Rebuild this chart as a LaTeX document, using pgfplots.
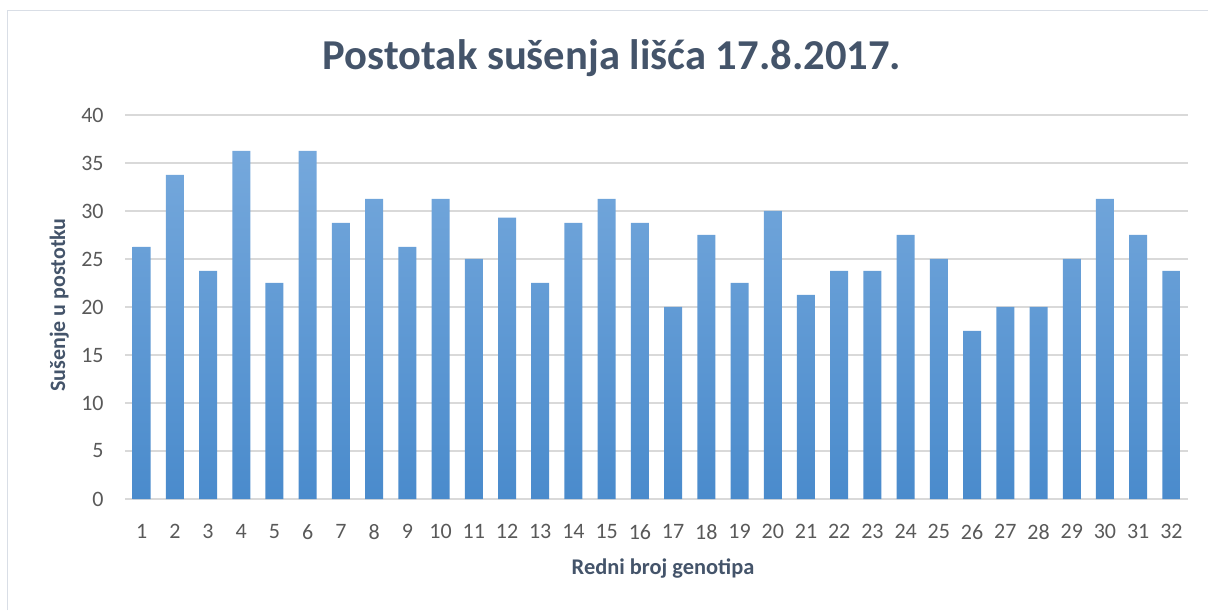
\documentclass[border=0pt]{standalone}
\usepackage{fontspec}
\setmainfont{Carlito}
\usepackage{pgfplots}
\pgfplotsset{compat=1.18}
\definecolor{titlecol}{HTML}{44546A}
\definecolor{tickcol}{HTML}{595959}
\definecolor{gridcol}{HTML}{D9D9D9}
\definecolor{bartop}{HTML}{75A8DC}
\definecolor{barbot}{HTML}{4A8BCC}
\definecolor{framecol}{HTML}{D9DEE6}

\begin{document}
\begin{tikzpicture}
\useasboundingbox (0,0) rectangle (604pt,305pt);
% light chart frame (partly cut off in the reference)
\draw[framecol, line width=0.8pt] (3.75pt,0pt) -- (3.75pt,299.75pt) -- (604pt,299.75pt);

\begin{axis}[
  at={(62.5pt,55.5pt)}, anchor=south west,
  scale only axis, width=531.5pt, height=192pt,
  xmin=0.5, xmax=32.5, ymin=0, ymax=40,
  ybar, bar width=9pt,
  xtick={1,...,32}, ytick={0,5,...,40},
  axis line style={draw=none},
  major tick length=0pt,
  ymajorgrids, grid style={gridcol, line width=0.75pt},
  /pgf/number format/assume math mode=true,
  tick label style={font=\fontsize{11}{13}\selectfont, text=tickcol},
  yticklabel style={inner sep=0pt, anchor=east, xshift=-10.5pt},
  xticklabel style={inner sep=0pt, anchor=north, yshift=-12.5pt},
]
\addplot[draw=none, top color=bartop, bottom color=barbot] coordinates {
  (1,26.25)(2,33.75)(3,23.75)(4,36.25)(5,22.5)(6,36.25)(7,28.75)(8,31.25)
  (9,26.25)(10,31.25)(11,25)(12,29.3)(13,22.5)(14,28.75)(15,31.25)(16,28.75)
  (17,20)(18,27.5)(19,22.5)(20,30)(21,21.25)(22,23.75)(23,23.75)(24,27.5)
  (25,25)(26,17.5)(27,20)(28,20)(29,25)(30,31.25)(31,27.5)(32,23.75)
};
\end{axis}

\node[anchor=base, text=titlecol, font=\fontsize{21.3}{25}\selectfont\bfseries]
  at (306pt,270pt) {Postotak sušenja lišća 17.8.2017.};
\node[anchor=base, text=titlecol, font=\fontsize{11.2}{13}\selectfont\bfseries]
  at (331.5pt,18pt) {Redni broj genotipa};
\node[anchor=base, rotate=90, text=titlecol, font=\fontsize{11}{13}\selectfont\bfseries]
  at (32.5pt,152.5pt) {Sušenje u postotku};
\end{tikzpicture}
\end{document}
